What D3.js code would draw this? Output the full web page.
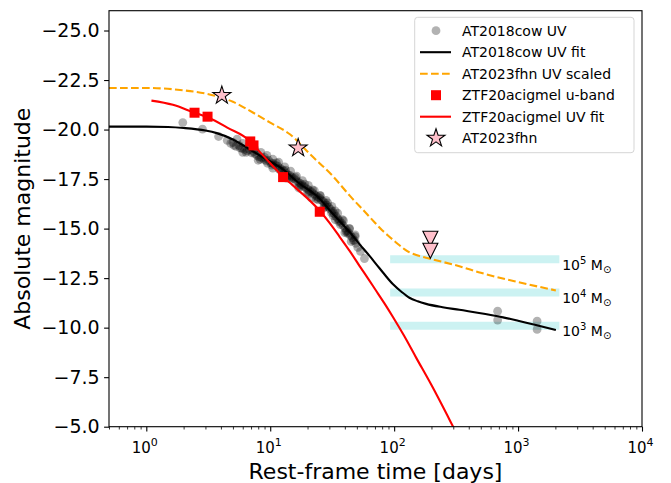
<!DOCTYPE html>
<html><head><meta charset="utf-8">
<script src="https://cdn.jsdelivr.net/npm/d3@7"></script>
<style>body{margin:0;background:#fff}svg{display:block}text{font-family:"DejaVu Sans",sans-serif}</style>
</head><body>
<svg id="c" width="671" height="483"></svg>
<script>
// ---- data (t in days, absolute magnitude) ----
const cowFit = [[0.5,-20.15],[1,-20.15],[1.5,-20.13],[2,-20.08],[3,-19.95],[3.7,-19.82],[5,-19.5],[6.9,-18.98],[9,-18.55],[12.8,-17.97],[17,-17.3],[23.9,-16.63],[32,-15.75],[44.4,-14.78],[52.5,-14.22],[63.3,-13.62],[76.2,-13.0],[97.5,-12.2],[115,-11.8],[132.8,-11.51],[155,-11.33],[181,-11.2],[246,-11.03],[336,-10.9],[684,-10.58],[1000,-10.35],[2018,-9.88]];
const fhnScaled = [[0.5,-22.1],[1,-22.1],[2,-21.98],[3,-21.82],[4,-21.62],[5,-21.4],[7.3,-20.85],[10,-20.35],[14.5,-19.75],[21,-18.75],[32,-17.65],[44,-16.65],[60,-15.75],[70,-15.3],[80,-14.92],[92,-14.58],[106,-14.25],[120,-13.98],[133,-13.8],[155,-13.64],[194,-13.48],[336,-13.1],[500,-12.77],[1000,-12.3],[2018,-11.88]];
const ztfFit = [[1.1,-21.46],[1.64,-21.25],[2.45,-20.85],[3.12,-20.62],[4.5,-20.1],[6.9,-19.4],[7.33,-19.22],[10,-18.3],[12.7,-17.62],[15,-17.22],[18,-16.78],[21,-16.4],[25.1,-15.9],[30,-15.3],[36.2,-14.6],[44,-13.85],[52.5,-13.12],[62,-12.45],[70,-11.95],[84,-11.2],[97.5,-10.55],[120,-9.6],[150,-8.5],[200,-7.1],[299,-5.0],[350,-4.16]];
const ztfU = [[2.45,-20.85],[3.12,-20.65],[6.9,-19.4],[7.33,-19.2],[12.7,-17.6],[25.1,-15.85]];
const fhnStars = [[4.07,-21.72],[16.8,-19.07]];
const fhnLimits = [[196,-14.49],[196,-13.88]];
const cowUV = [[1.97,-20.35],[2.84,-20.02],[3.83,-19.65],[4.5,-19.45],[4.8,-19.3],[5.0,-19.35],[5.3,-19.15],[5.6,-19.2],[5.9,-19.05],[6.2,-19.0],[6.5,-18.92],[6.8,-18.98],[7.1,-18.82],[7.5,-18.78],[7.8,-18.7],[8.1,-18.62],[8.5,-18.58],[8.9,-18.5],[9.3,-18.42],[9.7,-18.45],[10.1,-18.33],[10.5,-18.28],[11.0,-18.2],[11.5,-18.15],[12.0,-18.05],[12.5,-17.98],[13.0,-17.9],[13.5,-17.78],[14.0,-17.7],[14.5,-17.68],[15.0,-17.6],[15.6,-17.52],[16.2,-17.42],[16.8,-17.35],[17.4,-17.3],[18.0,-17.22],[18.7,-17.12],[19.4,-17.05],[20.1,-16.98],[20.8,-16.9],[21.6,-16.85],[22.4,-16.75],[23.2,-16.68],[24.0,-16.6],[24.9,-16.55],[25.8,-16.45],[26.7,-16.38],[27.6,-16.3],[28.6,-16.18],[29.6,-16.08],[30.6,-15.98],[31.7,-15.88],[32.8,-15.75],[33.9,-15.62],[35.1,-15.5],[36.3,-15.4],[37.6,-15.28],[38.9,-15.15],[40.2,-15.02],[41.6,-14.9],[43.0,-14.78],[44.5,-14.65],[46.0,-14.55],[47.6,-14.42],[49.2,-14.25],[50.9,-14.05],[53.5,-13.85],[57.6,-13.49],
[5.1,-19.2],[5.7,-19.08],[6.4,-18.85],[7.3,-18.9],[8.3,-18.5],[9.0,-18.6],[10.3,-18.2],[11.2,-18.32],[12.3,-17.9],[13.3,-17.95],[14.8,-17.5],[16.0,-17.58],[17.7,-17.15],[19.0,-17.25],[20.5,-16.78],[22.0,-16.95],[23.6,-16.5],[25.3,-16.65],[27.2,-16.2],[29.1,-16.3],[31.2,-15.8],[33.4,-15.9],[35.7,-15.35],[38.2,-15.45],[40.9,-14.85],[43.7,-15.0],[46.8,-14.4],[48.4,-14.68],
[9.5,-18.3],[11.8,-18.0],[14.2,-17.55],[17.1,-17.2],[20.0,-16.85],[24.4,-16.45],[28.0,-16.1],[32.2,-15.65],[36.9,-15.2],[42.3,-14.75],
[5.4,-19.52],[6.0,-19.3],[6.7,-19.18],[7.5,-19.0],[8.4,-18.85],[9.4,-18.7],[10.5,-18.5],[11.7,-18.35],[13.1,-18.12],[14.6,-17.9],[16.3,-17.65],[18.2,-17.42],[20.3,-17.18],[22.7,-16.92],[25.3,-16.68],[28.2,-16.42],[31.4,-16.12],[35.0,-15.78],[39.0,-15.4],[43.5,-15.0],[48.5,-14.6],
[6.0,-18.85],[8.0,-18.45],[10.5,-18.05],[13.5,-17.55],[17.0,-17.05],[21.5,-16.55],[27.0,-16.05],[33.5,-15.45],[40.0,-14.8],[45.0,-14.35],
[684,-10.83],[684,-10.38],[1424,-10.33],[1424,-9.91]];
const bandMags = [-13.45,-11.78,-10.10];
const bandExp = ["5","4","3"];
const bandRange = [100,2000];
const bandLabelT = 2270;
const xMajor = [1,10,100,1000,10000];
const xMajorExp = ["0","1","2","3","4"];
const yTicks = [-25,-22.5,-20,-17.5,-15,-12.5,-10,-7.5,-5];
const legendLabels = ["AT2018cow UV","AT2018cow UV fit","AT2023fhn UV scaled","ZTF20acigmel u-band","ZTF20acigmel UV fit","AT2023fhn"];

// ---- layout ----
const L=109, R=642, T=10.7, B=426.7;
const svg=d3.select("#c");
const x=d3.scaleLog().domain([0.5,1e4]).range([L,R]);
const y=d3.scaleLinear().domain([-26,-5]).range([T,B]);

svg.append("defs").append("clipPath").attr("id","clip").append("rect")
  .attr("x",L).attr("y",T).attr("width",R-L).attr("height",B-T);
const g=svg.append("g").attr("clip-path","url(#clip)");

// bands
g.selectAll("line.band").data(bandMags).join("line").attr("class","band")
  .attr("x1",x(bandRange[0])-4).attr("x2",x(bandRange[1])+4)
  .attr("y1",d=>y(d)).attr("y2",d=>y(d))
  .attr("stroke","#ccf2f2").attr("stroke-width",8);

// gray points
g.selectAll("circle.cow").data(cowUV).join("circle").attr("class","cow")
  .attr("cx",d=>x(d[0])).attr("cy",d=>y(d[1])).attr("r",4.4)
  .attr("fill","#000").attr("fill-opacity",0.3);

const line=d3.line().x(d=>x(d[0])).y(d=>y(d[1])).curve(d3.curveMonotoneX);
g.append("path").datum(cowFit).attr("d",line).attr("fill","none").attr("stroke","#000").attr("stroke-width",2.1);
g.append("path").datum(fhnScaled).attr("d",line).attr("fill","none").attr("stroke","orange").attr("stroke-width",2.1).attr("stroke-dasharray","7.7,3.3");
g.append("path").datum(ztfFit).attr("d",line).attr("fill","none").attr("stroke","red").attr("stroke-width",2.1);

g.selectAll("rect.ztf").data(ztfU).join("rect").attr("class","ztf")
  .attr("x",d=>x(d[0])-5).attr("y",d=>y(d[1])-5).attr("width",10).attr("height",10).attr("fill","red");

const star=d3.symbol().type(d3.symbolStar).size(100);
g.selectAll("path.star").data(fhnStars).join("path").attr("class","star")
  .attr("d",star).attr("transform",d=>`translate(${x(d[0])},${y(d[1])})`)
  .attr("fill","pink").attr("stroke","#000").attr("stroke-width",1.1);

const tri="M0,7.5L-7.5,-7.5L7.5,-7.5Z";
g.selectAll("path.tri").data(fhnLimits).join("path").attr("class","tri")
  .attr("d",tri).attr("transform",d=>`translate(${x(d[0])},${y(d[1])})`)
  .attr("fill","pink").attr("stroke","#000").attr("stroke-width",1.1);

// band labels
bandMags.forEach((m,i)=>{
  const t=svg.append("text").attr("x",x(bandLabelT)).attr("y",y(m)+10.5).attr("font-size",14).attr("fill","#000");
  t.append("tspan").text("10");
  t.append("tspan").attr("dy",-6).attr("font-size",10).text(bandExp[i]);
  t.append("tspan").attr("dy",6).text("\u00a0M");
  t.append("tspan").attr("dy",3).attr("font-size",10).text("\u2299");
});

// axes
const yAx=svg.append("g").attr("transform",`translate(${L},0)`)
  .call(d3.axisLeft(y).tickValues(yTicks).tickSize(4.9).tickPadding(4.5).tickSizeOuter(0)
  .tickFormat(d=>d3.format(".1f")(d).replace("-","\u2212")));
yAx.select(".domain").remove();
yAx.selectAll("text").attr("font-size",19).attr("font-family","DejaVu Sans");
yAx.selectAll("line").attr("stroke-width",1.1);

const minor=x.ticks().filter(v=>!xMajor.includes(v));
const xMin=svg.append("g").attr("transform",`translate(0,${B})`)
  .call(d3.axisBottom(x).tickValues(minor).tickSize(2.8).tickFormat("").tickSizeOuter(0));
xMin.select(".domain").remove();
xMin.selectAll("line").attr("stroke-width",0.8);
const xAx=svg.append("g").attr("transform",`translate(0,${B})`)
  .call(d3.axisBottom(x).tickValues(xMajor).tickSize(4.9).tickFormat("").tickSizeOuter(0));
xAx.select(".domain").remove();
xAx.selectAll("line").attr("stroke-width",1.1);
xMajor.forEach((v,i)=>{
  const t=svg.append("text").attr("x",x(v)-1.5).attr("y",452.7).attr("text-anchor","middle").attr("font-size",15);
  t.append("tspan").text("10");
  t.append("tspan").attr("dy",-6.5).attr("font-size",11).text(xMajorExp[i]);
});

svg.append("rect").attr("x",L).attr("y",T).attr("width",R-L).attr("height",B-T)
  .attr("fill","none").attr("stroke","#000").attr("stroke-width",1.1);

svg.append("text").attr("x",(L+R)/2).attr("y",479.3).attr("text-anchor","middle").attr("font-size",22).text("Rest-frame time [days]");
svg.append("text").attr("transform",`translate(29.5,${(T+B)/2}) rotate(-90)`).attr("text-anchor","middle").attr("font-size",22).text("Absolute magnitude");

// legend
const lg=svg.append("g");
lg.append("rect").attr("x",414.7).attr("y",17.3).attr("width",219.3).attr("height",135.4).attr("rx",3)
  .attr("fill","#fff").attr("fill-opacity",0.8).attr("stroke","#d5d5d5").attr("stroke-width",1);
const ly=i=>30.7+21.5*i;
lg.append("circle").attr("cx",436).attr("cy",ly(0)).attr("r",4.4).attr("fill","#000").attr("fill-opacity",0.3);
lg.append("line").attr("x1",420).attr("x2",451).attr("y1",ly(1)).attr("y2",ly(1)).attr("stroke","#000").attr("stroke-width",2.1);
lg.append("line").attr("x1",420).attr("x2",451).attr("y1",ly(2)).attr("y2",ly(2)).attr("stroke","orange").attr("stroke-width",2.1).attr("stroke-dasharray","7.7,3.3");
lg.append("rect").attr("x",431).attr("y",ly(3)-5).attr("width",10).attr("height",10).attr("fill","red");
lg.append("line").attr("x1",420).attr("x2",451).attr("y1",ly(4)).attr("y2",ly(4)).attr("stroke","red").attr("stroke-width",2.1);
lg.append("path").attr("d",star).attr("transform",`translate(436,${ly(5)})`).attr("fill","pink").attr("stroke","#000").attr("stroke-width",1.1);
legendLabels.forEach((s,i)=>{
  lg.append("text").attr("x",462).attr("y",ly(i)).attr("dy","0.35em").attr("font-size",14).text(s);
});
</script>
</body></html>
